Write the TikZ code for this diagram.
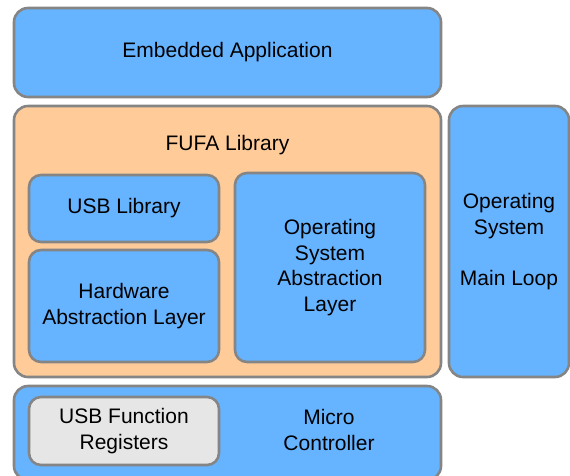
\documentclass[tikz,border=0pt]{standalone}
\usepackage{fontspec}
\setmainfont{Liberation Sans}
\usepackage{xcolor}
\definecolor{layerBlue}{HTML}{66B3FF}
\definecolor{libOrange}{HTML}{FFCC99}
\definecolor{regGray}{HTML}{E6E6E6}
\definecolor{edgeGray}{HTML}{858585}
\usepackage{tikz}
\usetikzlibrary{positioning,calc}
\tikzset{%
  layerBox/.style={%
    rectangle,
    rounded corners=14pt,
    draw=edgeGray,
    line width=2.6pt,
    fill=layerBlue,
    align=center,
    inner sep=0pt,
    font=\fontsize{21}{25.5}\selectfont
  },
  libBox/.style={%
    layerBox,
    fill=libOrange
  },
  innerBox/.style={%
    layerBox,
    rounded corners=12pt,
    minimum width=190pt
  },
  regBox/.style={%
    innerBox,
    fill=regGray
  },
  boxLabel/.style={%
    align=center,
    inner sep=0pt,
    font=\fontsize{21}{25.5}\selectfont
  }
}
\begin{document}
\begin{tikzpicture}[x=1pt,y=-1pt]
  \useasboundingbox (0,0) rectangle (570,475);
  % outer layers
  \node[layerBox, minimum width=427pt, minimum height=89pt] (app) at (227.5,52.5) {Embedded Application};
  \node[libBox, minimum width=427pt, minimum height=271pt] (fufa) at (227.5,241.5) {};
  \node[layerBox, minimum width=120pt, minimum height=271pt] (osLoop) at (509,241.5) {Operating\\System\\[25.5pt]Main Loop};
  \node[layerBox, minimum width=427pt, minimum height=94pt] (micro) at (227.5,433) {};

  % inside the library
  \node[boxLabel] (fufaLabel) at (227.5,145) {FUFA Library};
  \node[innerBox, minimum height=67pt] (usbLib) at (124,208.5) {USB Library};
  \node[innerBox, minimum height=112pt] (hal) at (124,306) {Hardware\\Abstraction Layer};
  \node[innerBox, minimum height=189pt] (osal) at (330,267.5) {Operating\\System\\Abstraction\\Layer};

  % inside the controller
  \node[regBox, minimum height=68pt] (usbReg) at (124,431) {USB Function\\Registers};
  \node[boxLabel] (microLabel) at (329,430) {Micro\\Controller};
\end{tikzpicture}
\end{document}
